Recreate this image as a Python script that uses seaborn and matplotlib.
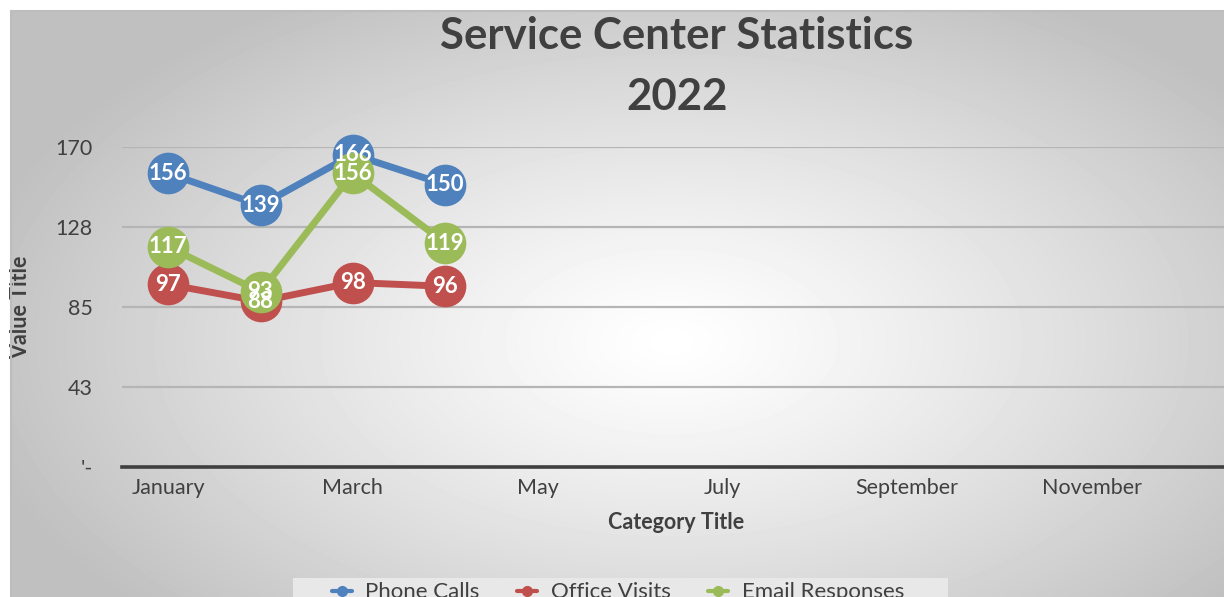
#!/usr/bin/env python3
"""Service center statistics line chart, 2022."""

import matplotlib
import matplotlib.pyplot as plt
import numpy as np
import pandas as pd
import seaborn as sns
from matplotlib.lines import Line2D
from matplotlib.patches import Rectangle

matplotlib.use("Agg")

months = ["January", "February", "March", "April", "May", "June",
          "July", "August", "September", "October", "November", "December"]
series_names = ["Phone Calls", "Office Visits", "Email Responses"]
phone_calls = [156, 139, 166, 150]
office_visits = [97, 88, 98, 96]
email_responses = [117, 93, 156, 119]
y_ticks = [0, 42.5, 85, 127.5, 170]
y_tick_labels = ["'-", "43", "85", "128", "170"]
colors = ["#4F81BD", "#C0504D", "#9BBB59"]

df = pd.concat(
    [
        pd.DataFrame({"month": range(len(vals)), "value": vals, "series": name})
        for name, vals in zip(series_names, [phone_calls, office_visits, email_responses])
    ],
    ignore_index=True,
)

sns.set_theme(style="white")
plt.rcParams["font.family"] = ["Lato", "DejaVu Sans"]
text_color = "#404040"

W, H = 1224, 597
fig = plt.figure(figsize=(W / 100, H / 100), dpi=100)
fig.patch.set_facecolor("white")

# radial gradient chart background
bg = fig.add_axes([11 / W, 0, 1 - 11 / W, 1 - 11 / H], zorder=-5)
yy, xx = np.mgrid[0:H - 11, 0:W - 11]
d = np.sqrt(((xx - 660) / 720) ** 2 + ((yy - 330) / 400) ** 2)
shade = 1.0 - 0.25 * np.clip(d, 0, 1) ** 1.2
bg.imshow(shade, cmap="gray", vmin=0, vmax=1, aspect="auto", interpolation="bilinear")
bg.set_axis_off()
fig.add_artist(Line2D([11 / W, 11 / W], [0, 1 - 11 / H], color="#bdbdbd", lw=1.5))
fig.add_artist(Line2D([11 / W, 1], [1 - 11 / H, 1 - 11 / H], color="#bdbdbd", lw=1.5))

ax = fig.add_axes([122 / W, 1 - 467 / H, (1230 - 122) / W, 320 / H])
ax.patch.set_alpha(0)
sns.lineplot(
    data=df, x="month", y="value", hue="series", palette=colors,
    marker="o", markersize=30, markeredgewidth=0, linewidth=5,
    legend=False, ax=ax, clip_on=False,
)
for name, vals in zip(series_names, [phone_calls, office_visits, email_responses]):
    for i, v in enumerate(vals):
        ax.text(i, v, str(v), ha="center", va="center", color="white",
                fontsize=16, fontweight="bold", zorder=10)

ax.set_xlim(-0.5, 11.5)
ax.set_ylim(0, 170)
ax.set_xticks(range(0, 12, 2))
ax.set_xticklabels(months[::2])
ax.set_yticks(y_ticks)
ax.set_yticklabels(y_tick_labels)
ax.tick_params(axis="both", length=0, labelsize=15.5, labelcolor=text_color)
ax.tick_params(axis="x", pad=8)
ax.tick_params(axis="y", pad=21)
ax.yaxis.grid(True, color="#b5b5b5", linewidth=1.6)
ax.set_axisbelow(True)
for side in ["top", "right", "left"]:
    ax.spines[side].set_visible(False)
ax.spines["bottom"].set_color("#404040")
ax.spines["bottom"].set_linewidth(2.6)
ax.set_xlabel("Category Title", fontsize=15.5, fontweight="bold", color=text_color, labelpad=10)
ax.set_ylabel("Value Title", fontsize=15.5, fontweight="bold", color=text_color)
ax.yaxis.set_label_coords((31 - 122) / 1108, 0.5)

fig.text(677 / W, 1 - 36 / H, "Service Center Statistics", ha="center", va="center",
         fontsize=31.5, fontweight="bold", color=text_color)
fig.text(677 / W, 1 - 97 / H, "2022", ha="center", va="center",
         fontsize=31.5, fontweight="bold", color=text_color)

# legend panel
fig.add_artist(Rectangle((293 / W, 0), (948 - 293) / W, (H - 578) / H,
                         transform=fig.transFigure, facecolor="#e8e8e8",
                         edgecolor="none", zorder=1))
handles = [Line2D([], [], color=c, marker="o", markersize=7, linewidth=3) for c in colors]
leg = fig.legend(
    handles, series_names, loc="upper center", bbox_to_anchor=(618 / W, 1 - 579 / H),
    ncol=3, frameon=False, fontsize=16, handlelength=0.9, handletextpad=0.6,
    columnspacing=1.7, borderpad=0.15, borderaxespad=0,
)
leg.set_zorder(2)
for t in leg.get_texts():
    t.set_color(text_color)

fig.savefig("out.png", dpi=100)
plt.close(fig)
